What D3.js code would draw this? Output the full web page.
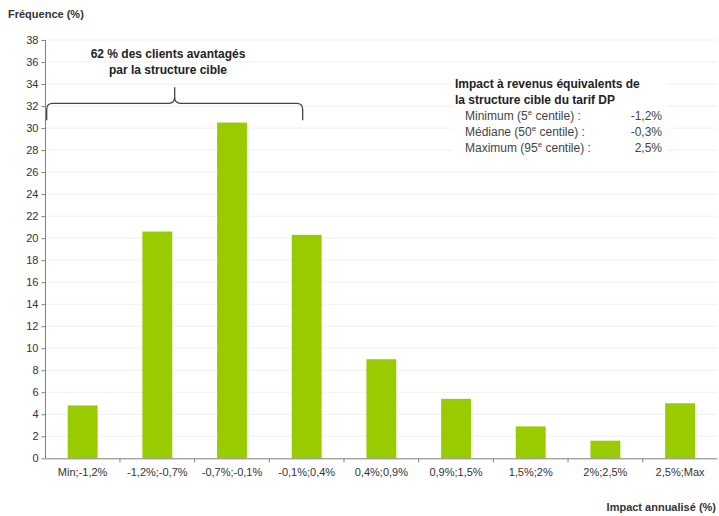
<!DOCTYPE html>
<html>
<head>
<meta charset="utf-8">
<script src="https://cdn.jsdelivr.net/npm/d3@7"></script>
<style>
  body { margin: 0; background: #fff; }
  text { font-family: "Liberation Sans", Arial, sans-serif; }
</style>
</head>
<body>
<div id="viz"></div>
<script>
// data
var categories = ["Min;-1,2%", "-1,2%;-0,7%", "-0,7%;-0,1%", "-0,1%;0,4%", "0,4%;0,9%",
                  "0,9%;1,5%", "1,5%;2%", "2%;2,5%", "2,5%;Max"];
var frequencies = [4.8, 20.6, 30.5, 20.3, 9.0, 5.4, 2.9, 1.6, 5.0];
var yTicks = d3.range(0, 39, 2);
var boxLines = [
  ["Minimum (5", "e", " centile) :", "-1,2%"],
  ["Médiane (50", "e", " centile) :", "-0,3%"],
  ["Maximum (95", "e", " centile) :", "2,5%"]
];

var W = 719, H = 516;
var svg = d3.select("#viz").append("svg")
  .attr("width", W).attr("height", H);

var x = d3.scaleBand().domain(categories).range([45.3, 717.4]).paddingInner(0.6).paddingOuter(0.3);
var y = d3.scaleLinear().domain([0, 38]).range([458.3, 40]);

// grid
svg.append("g").selectAll("line").data(yTicks.slice(1)).join("line")
  .attr("x1", 46).attr("x2", 717)
  .attr("y1", d => y(d)).attr("y2", d => y(d))
  .attr("stroke", "#f0f0f0").attr("stroke-width", 1);

// bars
svg.append("g").selectAll("rect").data(frequencies).join("rect")
  .attr("x", (d, i) => x(categories[i]))
  .attr("width", x.bandwidth())
  .attr("y", d => y(d))
  .attr("height", d => y(0) - y(d))
  .attr("fill", "#99cc00");

// y axis
var yAxis = svg.append("g").attr("transform", "translate(45.5,0)")
  .call(d3.axisLeft(y).tickValues(yTicks).tickSize(4).tickPadding(3));
yAxis.select(".domain").attr("stroke", "#808080").attr("d", "M0," + y(38) + "V" + y(0));
yAxis.selectAll(".tick line").attr("stroke", "#808080");
yAxis.selectAll("text").attr("fill", "#333").style("font-size", "11px");

// x axis
var xAxis = svg.append("g").attr("transform", "translate(0," + (y(0) + 0.5) + ")")
  .call(d3.axisBottom(x).tickSize(0).tickPadding(9));
xAxis.select(".domain").attr("stroke", "#808080").attr("d", "M45.3,0H717.4");
xAxis.selectAll("text").attr("fill", "#333").style("font-size", "11px");
// tick marks between categories
svg.append("g").selectAll("line").data(categories.slice(1)).join("line")
  .attr("x1", d => x(d) - x.step() * x.paddingInner() / 2)
  .attr("x2", d => x(d) - x.step() * x.paddingInner() / 2)
  .attr("y1", y(0)).attr("y2", y(0) + 4)
  .attr("stroke", "#808080");

// axis titles
svg.append("text").attr("x", 8).attr("y", 18)
  .attr("font-size", 11).attr("font-weight", "bold").attr("fill", "#333")
  .text("Fréquence (%)");
svg.append("text").attr("x", 716).attr("y", 511).attr("text-anchor", "end")
  .attr("font-size", 11).attr("font-weight", "bold").attr("fill", "#333")
  .text("Impact annualisé (%)");

// brace over the advantaged classes
var bx0 = 46.7, bx1 = x(categories[3]) + x.bandwidth() / 2 - 4, bm = (bx0 + bx1) / 2;
var by = y(32.25), bEnd = y(30.7), bTop = y(33.7), r = 6;
svg.append("path")
  .attr("d", "M" + bx0 + "," + bEnd + "V" + (by + r) + "Q" + bx0 + "," + by + " " + (bx0 + r) + "," + by +
             "H" + (bm - r) + "Q" + bm + "," + by + " " + bm + "," + (by - r) + "V" + bTop +
             "M" + bm + "," + (by - r) + "Q" + bm + "," + by + " " + (bm + r) + "," + by +
             "H" + (bx1 - r) + "Q" + bx1 + "," + by + " " + bx1 + "," + (by + r) + "V" + bEnd)
  .attr("fill", "none").attr("stroke", "#444").attr("stroke-width", 1.3);

svg.append("text").attr("x", 168).attr("y", 58).attr("text-anchor", "middle")
  .attr("font-size", 12).attr("font-weight", "bold").attr("fill", "#222")
  .text("62 % des clients avantagés");
svg.append("text").attr("x", 168).attr("y", 74).attr("text-anchor", "middle")
  .attr("font-size", 12).attr("font-weight", "bold").attr("fill", "#222")
  .text("par la structure cible");

// text box
svg.append("rect").attr("x", 453).attr("y", 74).attr("width", 214).attr("height", 84).attr("fill", "#fff");
svg.append("text").attr("x", 455).attr("y", 88)
  .attr("font-size", 12).attr("font-weight", "bold").attr("fill", "#222")
  .text("Impact à revenus équivalents de");
svg.append("text").attr("x", 455).attr("y", 104)
  .attr("font-size", 12).attr("font-weight", "bold").attr("fill", "#222")
  .text("la structure cible du tarif DP");

var rows = svg.append("g").selectAll("g").data(boxLines).join("g")
  .attr("transform", (d, i) => "translate(0," + (120 + i * 16) + ")");
var lbl = rows.append("text").attr("x", 465).attr("font-size", 12).attr("fill", "#444");
lbl.append("tspan").text(d => d[0]);
lbl.append("tspan").attr("dy", -5).attr("font-size", 8).text(d => d[1]);
lbl.append("tspan").attr("dy", 5).text(d => d[2]);
rows.append("text").attr("x", 662).attr("text-anchor", "end")
  .attr("font-size", 12).attr("fill", "#444").text(d => d[3]);
</script>
</body>
</html>
